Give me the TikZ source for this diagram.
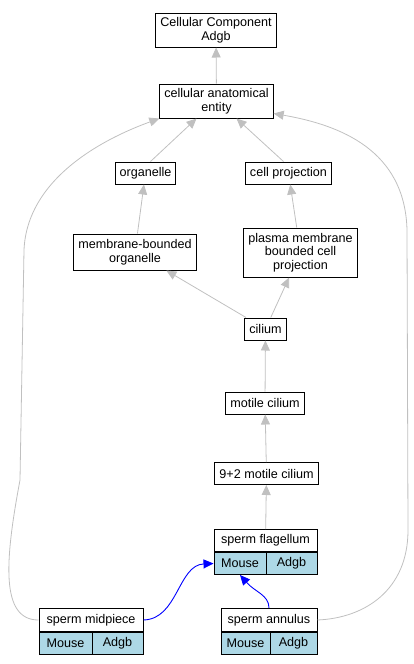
\documentclass[tikz,border=0pt]{standalone}
\usepackage{fontspec}
\setmainfont{Liberation Sans}
\usetikzlibrary{arrows.meta}
\definecolor{edgegrey}{HTML}{C0C0C0}
\definecolor{cellblue}{HTML}{ADD8E6}
\tikzset{
  term/.style={draw, line width=1pt, fill=white, align=center, inner xsep=4.5pt,
    inner ysep=2pt, minimum height=22pt, font=\fontsize{12.6}{13.5}\selectfont},
  cellbox/.style={term, fill=cellblue, inner xsep=0pt, minimum height=22pt},
  isa/.style={edgegrey, line width=0.8pt, -{Triangle[length=10pt,width=9pt]}},
  orth/.style={blue, line width=0.9pt, -{Triangle[length=10pt,width=9pt]}}
}
\begin{document}
\begin{tikzpicture}[x=1pt, y=-1pt]
        \useasboundingbox (0,0) rectangle (413,664);

        % Terms
        \node[term, minimum height=34pt] (cc) at (216,30) {Cellular Component\\Adgb};
        \node[term, minimum height=34pt] (cae) at (216.5,101) {cellular anatomical\\entity};
        \node[term] (org) at (145.5,173) {organelle};
        \node[term] (cp) at (288.5,173) {cell projection};
        \node[term, minimum height=36pt] (mbo) at (135,252) {membrane-bounded\\organelle};
        \node[term, minimum height=49pt] (pmbcp) at (300.5,252.5) {plasma membrane\\bounded cell\\projection};
        \node[term] (cil) at (265.5,329) {cilium};
        \node[term] (mot) at (265,403) {motile cilium};
        \node[term] (nine) at (266.5,473.5) {9+2 motile cilium};

        % Annotated terms
        \node[term, minimum width=103pt] (flag) at (265.5,540.5) {sperm flagellum};
        \node[cellbox, minimum width=52pt, anchor=north west] (flagm) at (flag.south west) {Mouse};
        \node[cellbox, minimum width=51pt, anchor=north east] (flaga) at (flag.south east) {Adgb};
        \node[term, minimum width=104pt, minimum height=23pt] (mid) at (91,620) {sperm midpiece};
        \node[cellbox, minimum width=53pt, anchor=north west] (midm) at (mid.south west) {Mouse};
        \node[cellbox, minimum width=51pt, anchor=north east] (mida) at (mid.south east) {Adgb};
        \node[term, minimum width=96pt, minimum height=23pt] (ann) at (269,620) {sperm annulus};
        \node[cellbox, minimum width=49pt, anchor=north west] (annm) at (ann.south west) {Mouse};
        \node[cellbox, minimum width=47pt, anchor=north east] (anna) at (ann.south east) {Adgb};

        % is_a edges
        \draw[isa] (cae) -- (cc);
        \draw[isa] ([xshift=5pt]org.north) -- ([xshift=-20pt]cae.south);
        \draw[isa] ([xshift=-5pt]cp.north) -- ([xshift=20pt]cae.south);
        \draw[isa] (mbo) -- (org);
        \draw[isa] (pmbcp) -- (cp);
        \draw[isa] (cil) -- (mbo);
        \draw[isa] (cil) -- (pmbcp);
        \draw[isa] (mot) -- (cil);
        \draw[isa] (nine) -- (mot);
        \draw[isa] (flag) -- (nine);
        \draw[isa] (mid.west) .. controls (0,620) and (5,560) .. (20,480) -- (24,250)
          .. controls (27,180) and (100,140) .. (cae.south west);
        \draw[isa] (ann.east) .. controls (365,618) and (408,590) .. (408,530) -- (407,230)
          .. controls (405,150) and (340,125) .. ([yshift=5pt]cae.south east);

        % part_of edges
        \draw[orth] (mid.east) .. controls (178,619) and (178,565) .. (flagm.west);
        \draw[orth] (ann.north) .. controls (269,595) and (255,592) .. (flagm.south);
      \end{tikzpicture}
\end{document}
